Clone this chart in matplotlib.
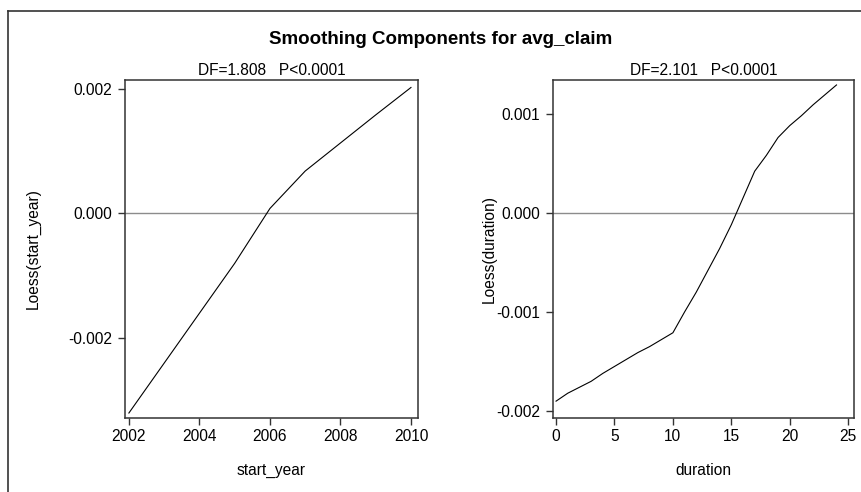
import matplotlib
matplotlib.use('Agg')
from matplotlib import rcParams
rcParams['font.family'] = ['Liberation Sans', 'DejaVu Sans']
import matplotlib.pyplot as plt
from matplotlib.lines import Line2D

# smoothing component for start_year
years = [2002, 2003, 2004, 2005, 2006, 2007, 2008, 2009, 2010]
loess_year = [-0.00320, -0.00240, -0.00160, -0.00080, 0.00008, 0.00068, 0.00113, 0.00158, 0.00202]

# smoothing component for duration
duration = list(range(25))
loess_dur = [-0.00190, -0.00182, -0.00176, -0.00170, -0.00162, -0.00155, -0.00148,
             -0.00141, -0.00135, -0.00128, -0.00121, -0.00100, -0.00080, -0.00058,
             -0.00036, -0.00012, 0.00015, 0.00042, 0.00058, 0.00076, 0.00088,
             0.00098, 0.00109, 0.00119, 0.00129]

year_ticks = [2002, 2004, 2006, 2008, 2010]
year_yticks = [-0.002, 0.000, 0.002]
dur_ticks = [0, 5, 10, 15, 20, 25]
dur_yticks = [-0.002, -0.001, 0.000, 0.001]

edge = '#333333'
fs = 11.2


def style(ax):
    for side in ax.spines.values():
        side.set_color(edge)
        side.set_linewidth(1.1)
    ax.tick_params(direction='out', length=5, width=1, color=edge,
                   labelsize=fs, top=False, right=False)
    ax.tick_params(axis='x', pad=3)
    ax.tick_params(axis='y', pad=4.5)


def panel(ax, x, y, xt, yt, xlim, ylim, xlabel, ylabel, sub, ylab_x):
    ax.axhline(0, color='#8c8c8c', linewidth=1)
    ax.plot(x, y, color='black', linewidth=0.8)
    ax.set_xlim(*xlim)
    ax.set_ylim(*ylim)
    ax.set_xticks(xt)
    ax.set_yticks(yt)
    ax.set_yticklabels(['%.3f' % v for v in yt])
    ax.set_xlabel(xlabel, fontsize=fs, va='center')
    ax.set_ylabel(ylabel, fontsize=fs, va='center')
    ax.xaxis.set_label_coords(0.5, -0.154)
    ax.yaxis.set_label_coords(ylab_x, 0.5)
    ax.set_title(sub, fontsize=fs, pad=3.5)
    style(ax)


fig = plt.figure(figsize=(8.61, 4.92), dpi=100)
ax1 = fig.add_axes([0.1452, 0.1504, 0.3403, 0.687])
ax2 = fig.add_axes([0.6423, 0.1504, 0.3496, 0.687])

panel(ax1, years, loess_year, year_ticks, year_yticks, (2001.89, 2010.2),
      (-0.00328, 0.00214), 'start_year', 'Loess(start_year)',
      'DF=1.808   P<0.0001', -0.314)
panel(ax2, duration, loess_dur, dur_ticks, dur_yticks, (-0.26, 25.5),
      (-0.00207, 0.00134), 'duration', 'Loess(duration)',
      'DF=2.101   P<0.0001', -0.213)

fig.text(0.512, 0.9187, 'Smoothing Components for avg_claim', ha='center',
         va='center', fontsize=13.5, fontweight='bold')

# outer frame, left and top edges only
fig.add_artist(Line2D([8 / 861, 8 / 861], [0, 1 - 11 / 492], color='#333333', linewidth=1.2))
fig.add_artist(Line2D([8 / 861, 1], [1 - 11 / 492, 1 - 11 / 492], color='#333333', linewidth=1.2))

fig.savefig('out.png', dpi=100)
